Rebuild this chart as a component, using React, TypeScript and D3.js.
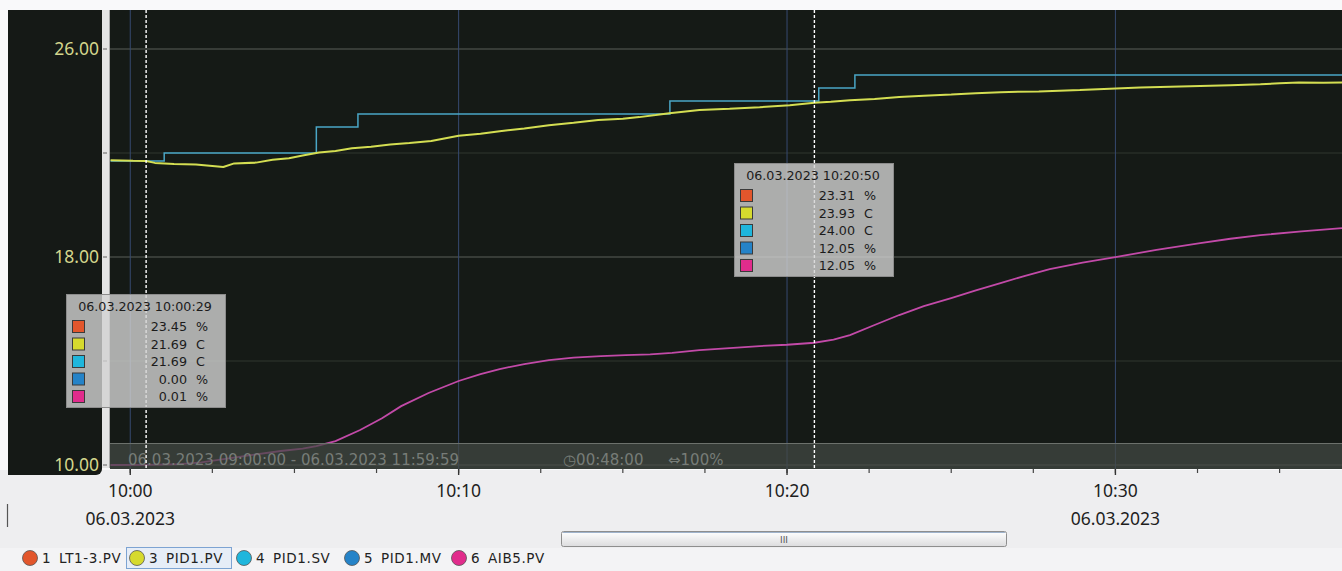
import React from 'react'
import * as d3 from 'd3'

// ---- data (06.03.2023) ----
const yTicks = [10, 14, 18, 22, 26]
const yLabels = [10, 18, 26]

const pvSeries: [string, number][] = [
  ['09:59:24', 21.72], ['10:00:05', 21.7], ['10:00:29', 21.69], ['10:00:45', 21.62],
  ['10:01:20', 21.58], ['10:02:00', 21.56], ['10:02:30', 21.5], ['10:02:50', 21.46],
  ['10:03:10', 21.6], ['10:03:50', 21.63], ['10:04:20', 21.74], ['10:04:50', 21.8],
  ['10:05:15', 21.9], ['10:05:45', 22.02], ['10:06:15', 22.08], ['10:06:45', 22.18],
  ['10:07:20', 22.24], ['10:07:55', 22.33], ['10:08:30', 22.38], ['10:09:10', 22.46],
  ['10:10:00', 22.66], ['10:10:40', 22.74], ['10:11:15', 22.84], ['10:12:00', 22.94],
  ['10:12:45', 23.07], ['10:13:30', 23.16], ['10:14:15', 23.27], ['10:15:00', 23.32],
  ['10:15:30', 23.38], ['10:16:00', 23.46], ['10:16:25', 23.53], ['10:17:20', 23.65],
  ['10:18:15', 23.7], ['10:19:10', 23.76], ['10:20:05', 23.84], ['10:20:50', 23.93],
  ['10:21:20', 23.97], ['10:21:55', 24.03], ['10:22:40', 24.08], ['10:23:25', 24.15],
  ['10:24:10', 24.2], ['10:25:00', 24.25], ['10:25:45', 24.3], ['10:26:30', 24.34],
  ['10:27:40', 24.37], ['10:28:55', 24.42], ['10:29:50', 24.47], ['10:30:45', 24.52],
  ['10:31:40', 24.55], ['10:32:35', 24.58], ['10:33:30', 24.61], ['10:34:25', 24.64],
  ['10:35:00', 24.68], ['10:35:35', 24.71], ['10:36:20', 24.7], ['10:36:54', 24.71],
]

const svSeries: [string, number][] = [
  ['09:59:24', 21.69], ['10:01:02', 22.0], ['10:05:40', 23.0], ['10:06:56', 23.5],
  ['10:16:26', 24.0], ['10:20:58', 24.5], ['10:22:04', 25.0], ['10:36:54', 25.0],
]

const aibSeries: [string, number][] = [
  ['09:59:24', 0.0], ['10:00:29', 0.01], ['10:01:30', 0.08], ['10:02:10', 0.25],
  ['10:03:00', 0.65], ['10:03:50', 1.05], ['10:04:35', 1.38], ['10:05:15', 1.62],
  ['10:05:40', 1.87], ['10:06:15', 2.36], ['10:07:00', 3.45], ['10:07:40', 4.6],
  ['10:08:15', 5.8], ['10:09:05', 7.1], ['10:10:00', 8.28], ['10:10:40', 8.95],
  ['10:11:15', 9.46], ['10:12:00', 9.95], ['10:12:45', 10.34], ['10:13:30', 10.58],
  ['10:14:20', 10.74], ['10:15:05', 10.82], ['10:15:50', 10.9], ['10:16:30', 11.05],
  ['10:17:20', 11.33], ['10:18:15', 11.52], ['10:19:10', 11.72], ['10:20:00', 11.85],
  ['10:20:50', 12.05], ['10:21:25', 12.35], ['10:21:55', 12.81], ['10:22:40', 13.8],
  ['10:23:25', 14.78], ['10:24:10', 15.65], ['10:25:00', 16.45], ['10:25:45', 17.2],
  ['10:26:30', 17.93], ['10:27:15', 18.65], ['10:28:00', 19.31], ['10:29:00', 19.95],
  ['10:30:00', 20.49], ['10:31:15', 21.2], ['10:32:35', 21.87], ['10:33:30', 22.3],
  ['10:34:25', 22.66], ['10:35:40', 23.02], ['10:36:54', 23.35],
]

const penIds = ['1', '3', '4', '5', '6']
const penNames = ['LT1-3.PV', 'PID1.PV', 'PID1.SV', 'PID1.MV', 'AIB5.PV']
const penColors = ['#e2562c', '#d6da2e', '#1fb6dc', '#2583c8', '#e12c8c']
const penUnits = ['%', 'C', 'C', '%', '%']

const cursorTimes = ['10:00:29', '10:20:50']
const cursorValues = [
  ['23.45', '21.69', '21.69', '0.00', '0.01'],
  ['23.31', '23.93', '24.00', '12.05', '12.05'],
]

const statusRange = '06.03.2023 09:00:00  -  06.03.2023 11:59:59'
const statusSpan = '00:48:00'
const statusZoom = '100%'

// ---- layout ----
const W = 1342
const H = 571
const plot = { left: 110, right: 1342, top: 10, bottom: 469 }
const tipTop = [294, 163]
const legendX = [30, 137, 244, 352, 459]

const day = '2023-03-06 '
const parse = d3.timeParse('%Y-%m-%d %H:%M:%S')
const t = (s: string) => parse(day + s) as Date

export default function App() {
  const x = d3.scaleTime().domain([t('09:59:23'), t('10:36:54')]).range([plot.left, plot.right])
  const y = d3.scaleLinear().domain([10, 26]).range([465, 49])
  const yPct = d3.scaleLinear().domain([0, 41]).range([465, 49])

  const majors = x.ticks(d3.timeMinute.every(10) as d3.TimeInterval)
  const [d0, d1] = x.domain()
  const minors = d3
    .range(0, 20)
    .map((i) => new Date(+t('10:00:00') + i * 150000))
    .filter((d) => d >= d0 && d <= d1)

  const fmtTime = d3.timeFormat('%H:%M')
  const fmtDate = d3.timeFormat('%d.%m.%Y')

  const pvLine = d3
    .line<[string, number]>()
    .x((d) => x(t(d[0])))
    .y((d) => y(d[1]))
  const svLine = d3
    .line<[string, number]>()
    .x((d) => x(t(d[0])))
    .y((d) => y(d[1]))
    .curve(d3.curveStepAfter)
  const aibLine = d3
    .line<[string, number]>()
    .x((d) => x(t(d[0])))
    .y((d) => yPct(d[1]))

  const tipFont = '"DejaVu Sans", sans-serif'

  return (
    <svg
      width={W}
      height={H}
      style={{ position: 'absolute', left: 0, top: 0, background: '#f9f9fa' }}
    >
      <defs>
        <clipPath id="plotClip">
          <rect x={plot.left} y={plot.top} width={plot.right - plot.left} height={plot.bottom - plot.top} />
        </clipPath>
        <linearGradient id="scrollGrad" x1="0" x2="0" y1="0" y2="1">
          <stop offset="0" stopColor="#ffffff" />
          <stop offset="1" stopColor="#dcdcde" />
        </linearGradient>
      </defs>

      {/* lower light area */}
      <rect x={0} y={470} width={W} height={H - 470} fill="#eeeef0" />
      <rect x={0} y={548} width={W} height={H - 548} fill="#f3f3f5" />

      {/* y axis panel */}
      <rect x={8} y={10} width={94} height={465} rx={6} fill="#151916" />
      <rect x={8} y={10} width={94} height={450} fill="#151916" />
      <rect x={8} y={10} width={20} height={465} fill="#151916" />

      {/* plot panel */}
      <rect x={plot.left} y={plot.top} width={plot.right - plot.left} height={plot.bottom - plot.top} fill="#151a16" />

      {/* grid */}
      {yTicks.map((v) => (
        <line
          key={'g' + v}
          x1={plot.left}
          x2={plot.right}
          y1={y(v)}
          y2={y(v)}
          stroke={v % 8 === 2 ? '#5a5f59' : '#30362f'}
          strokeWidth={1}
        />
      ))}
      {majors.map((d) => (
        <line key={'v' + +d} x1={x(d)} x2={x(d)} y1={plot.top} y2={plot.bottom} stroke="#364a70" strokeWidth={1} />
      ))}

      {/* white scale bar */}
      <rect x={102} y={10} width={8} height={458} fill="#e4e4e4" />
      <line x1={109.5} x2={109.5} y1={10} y2={468} stroke="#a8a8a8" />
      {yTicks.map((v) => (
        <line key={'t' + v} x1={103} x2={107} y1={y(v)} y2={y(v)} stroke="#777" strokeWidth={1.2} />
      ))}
      {yLabels.map((v) => (
        <text
          key={'l' + v}
          x={99}
          y={y(v)}
          dy="0.36em"
          textAnchor="end"
          fill="#d3d58c"
          fontFamily='"Noto Sans", sans-serif'
          fontSize={17.5}
        >
          {v.toFixed(2)}
        </text>
      ))}

      {/* pens */}
      <g clipPath="url(#plotClip)" fill="none">
        <path d={aibLine(aibSeries) || ''} stroke="#c24aa8" strokeWidth={1.8} />
        <path d={svLine(svSeries) || ''} stroke="#4aa6c6" strokeWidth={1.5} />
        <path d={pvLine(pvSeries) || ''} stroke="#d4de52" strokeWidth={2} strokeLinejoin="bevel" />
      </g>

      {/* status strip */}
      <rect x={plot.left} y={443} width={plot.right - plot.left} height={26} fill="#444944" opacity={0.72} />
      <line x1={plot.left} x2={plot.right} y1={443.5} y2={443.5} stroke="#6c716c" />
      <g fontFamily={tipFont} fontSize={15} fill="#777c78">
        <text x={128} y={465}>{statusRange}</text>
        <text x={563} y={465}>{'\u25F7' + statusSpan}</text>
        <text x={668} y={465}>{'\u21D4' + statusZoom}</text>
      </g>

      {/* cursors */}
      {cursorTimes.map((c) => (
        <line
          key={'c' + c}
          x1={x(t(c))}
          x2={x(t(c))}
          y1={plot.top}
          y2={plot.bottom}
          stroke="#ffffff"
          strokeWidth={1.4}
          strokeDasharray="3 2"
        />
      ))}

      {/* cursor tooltips */}
      {cursorTimes.map((c, i) => {
        const left = Math.round(x(t(c))) - 80
        const top = tipTop[i]
        return (
          <g key={'tip' + c} fontFamily={tipFont} fontSize={12.7} fill="#1b1b1b">
            <rect x={left + 0.5} y={top + 0.5} width={159} height={113} fill="#d2d2d2" fillOpacity={0.8} stroke="#8c8c8c" />
            <text x={left + 79} y={top + 17} textAnchor="middle">
              {'06.03.2023 ' + c}
            </text>
            {cursorValues[i].map((v, k) => {
              const cy = top + 32.5 + k * 17.5
              return (
                <g key={k}>
                  <rect x={left + 6.5} y={cy - 6} width={12} height={12} fill={penColors[k]} stroke="#3a3a3a" />
                  <text x={left + 121} y={cy} dy="0.36em" textAnchor="end">
                    {v}
                  </text>
                  <text x={left + 130} y={cy} dy="0.36em">
                    {penUnits[k]}
                  </text>
                </g>
              )
            })}
          </g>
        )
      })}

      {/* time axis */}
      {minors.map((d) => (
        <line key={'m' + +d} x1={x(d)} x2={x(d)} y1={469} y2={473} stroke="#444" strokeWidth={1.2} />
      ))}
      {majors.map((d) => (
        <line key={'M' + +d} x1={x(d)} x2={x(d)} y1={469} y2={475} stroke="#333" strokeWidth={1.4} />
      ))}
      <g fontFamily='"Noto Sans", sans-serif' fontSize={17.5} fill="#1e1e1e" textAnchor="middle">
        {majors.map((d) => (
          <text key={'xt' + +d} x={x(d)} y={497}>
            {fmtTime(d)}
          </text>
        ))}
        {majors
          .filter((d) => d.getMinutes() % 30 === 0)
          .map((d) => (
            <text key={'xd' + +d} x={x(d)} y={525}>
              {fmtDate(d)}
            </text>
          ))}
      </g>
      <line x1={7.5} x2={7.5} y1={504} y2={527} stroke="#555" strokeWidth={1.2} />

      {/* scrollbar */}
      <rect x={561.5} y={531.5} width={445} height={15} rx={2} fill="url(#scrollGrad)" stroke="#8e8e8e" />
      <line x1={563} x2={1005} y1={532.5} y2={532.5} stroke="#9fb3cc" />
      <text x={784} y={543} textAnchor="middle" fontFamily={tipFont} fontSize={9} fill="#555">
        III
      </text>

      {/* legend */}
      <rect x={126.5} y={547.5} width={105} height={21} fill="#e6edf7" stroke="#7da3d2" />
      <g fontFamily={tipFont} fontSize={13.5} fill="#222">
        {penIds.map((id, i) => (
          <g key={'lg' + id}>
            <circle cx={legendX[i]} cy={558} r={7.5} fill={penColors[i]} stroke="#555" strokeWidth={0.8} />
            <text x={legendX[i] + 12} y={563}>
              {id}
            </text>
            <text x={legendX[i] + 29} y={563} letterSpacing={0.6}>
              {penNames[i]}
            </text>
          </g>
        ))}
      </g>
    </svg>
  )
}
